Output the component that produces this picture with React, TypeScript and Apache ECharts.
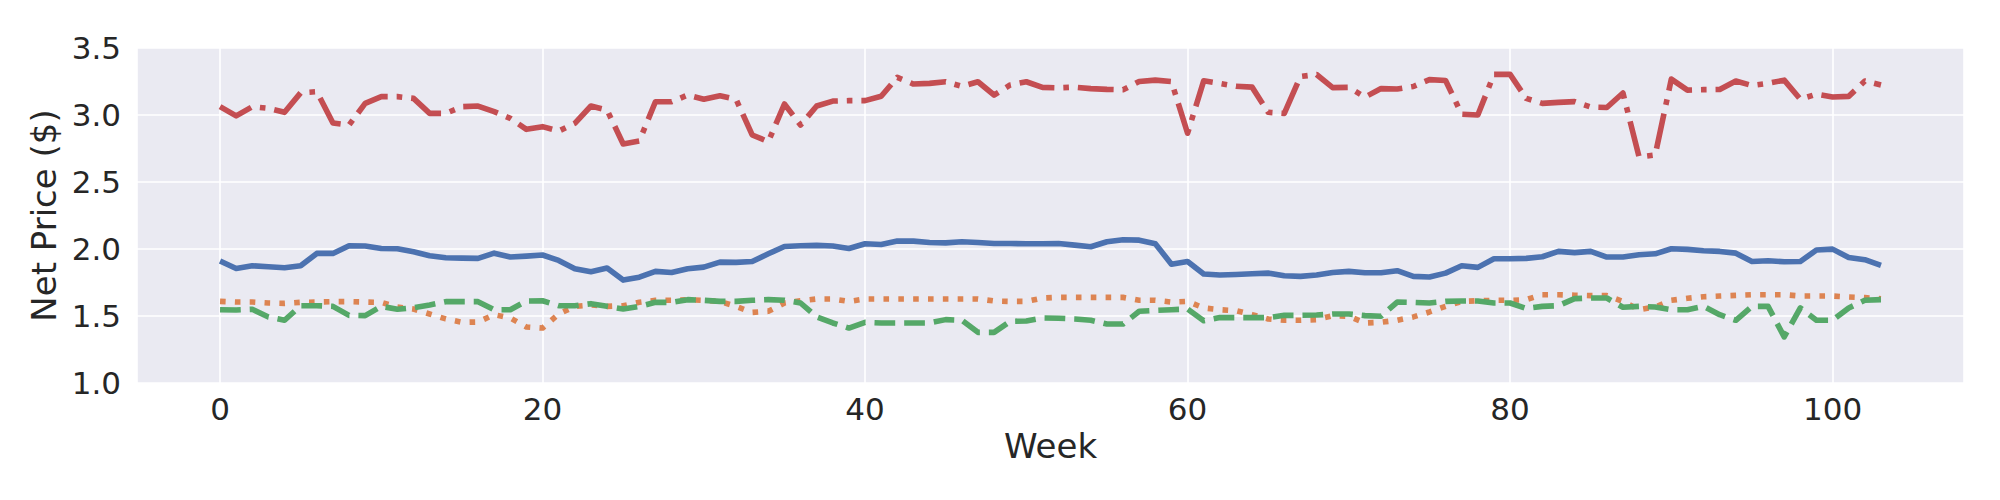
import React, { useEffect, useRef } from "react";
import * as echarts from "echarts";

const seriesNames = ["Product A", "Product B", "Product C", "Product D"];

const blueValues = [
  1.91, 1.855, 1.875, 1.868, 1.86, 1.875, 1.967, 1.967, 2.024, 2.022,
  2.004, 2.002, 1.98, 1.95, 1.935, 1.932, 1.93, 1.969, 1.94, 1.947,
  1.955, 1.915, 1.853, 1.83, 1.858, 1.768, 1.79, 1.833, 1.825, 1.853,
  1.865, 1.902, 1.9, 1.907, 1.964, 2.019, 2.024, 2.027, 2.022, 2.004,
  2.039, 2.034, 2.059, 2.059, 2.049, 2.046, 2.054, 2.049, 2.041, 2.041,
  2.039, 2.039, 2.041, 2.029, 2.017, 2.054, 2.069, 2.066, 2.039, 1.887,
  1.907, 1.813, 1.806, 1.81, 1.815, 1.82, 1.8, 1.796, 1.806, 1.825,
  1.833, 1.823, 1.823, 1.838, 1.796, 1.791, 1.82, 1.875, 1.863, 1.927,
  1.927, 1.93, 1.942, 1.982, 1.973, 1.982, 1.94, 1.94, 1.957, 1.964,
  2.002, 1.997, 1.987, 1.982, 1.969, 1.907, 1.912, 1.905, 1.907, 1.992,
  1.999, 1.937, 1.92, 1.878,
];

const orangeValues = [
  1.609, 1.604, 1.604, 1.597, 1.594, 1.602, 1.604, 1.607, 1.607, 1.604,
  1.602, 1.566, 1.552, 1.515, 1.478, 1.453, 1.455, 1.51, 1.485, 1.418,
  1.41, 1.515, 1.572, 1.582, 1.572, 1.577, 1.602, 1.617, 1.617, 1.622,
  1.617, 1.609, 1.572, 1.527, 1.535, 1.597, 1.614, 1.627, 1.627, 1.609,
  1.627, 1.627, 1.627, 1.627, 1.627, 1.627, 1.627, 1.627, 1.612, 1.609,
  1.609, 1.634, 1.639, 1.639, 1.639, 1.639, 1.639, 1.617, 1.617, 1.604,
  1.609, 1.56, 1.547, 1.54, 1.51, 1.478, 1.468, 1.468, 1.473, 1.502,
  1.498, 1.448, 1.453, 1.468, 1.493, 1.53, 1.572, 1.609, 1.614, 1.617,
  1.617, 1.622, 1.659, 1.659, 1.655, 1.652, 1.652, 1.609, 1.547, 1.567,
  1.617, 1.632, 1.644, 1.649, 1.654, 1.659, 1.659, 1.659, 1.649, 1.649,
  1.649, 1.642, 1.637, 1.629,
];

const greenValues = [
  1.547, 1.545, 1.55, 1.493, 1.468, 1.577, 1.577, 1.572, 1.505, 1.503,
  1.572, 1.55, 1.562, 1.582, 1.607, 1.607, 1.607, 1.547, 1.547, 1.612,
  1.614, 1.577, 1.577, 1.592, 1.572, 1.552, 1.572, 1.602, 1.602, 1.622,
  1.617, 1.609, 1.609, 1.617, 1.622, 1.617, 1.597, 1.493, 1.448, 1.41,
  1.453, 1.448, 1.448, 1.448, 1.448, 1.473, 1.468, 1.378, 1.378, 1.46,
  1.463, 1.485, 1.483, 1.478, 1.468, 1.44, 1.44, 1.535, 1.542, 1.547,
  1.552, 1.465, 1.488, 1.488, 1.488, 1.488, 1.505, 1.505, 1.507, 1.515,
  1.515, 1.503, 1.498, 1.604, 1.602, 1.597, 1.609, 1.612, 1.612, 1.597,
  1.597, 1.557, 1.572, 1.577, 1.63, 1.634, 1.634, 1.565, 1.572, 1.567,
  1.547, 1.547, 1.572, 1.51, 1.468, 1.572, 1.572, 1.344, 1.56, 1.468,
  1.468, 1.56, 1.617, 1.622,
];

const redValues = [
  3.062, 2.993, 3.062, 3.05, 3.02, 3.166, 3.174, 2.94, 2.925, 3.087,
  3.137, 3.137, 3.124, 3.012, 3.012, 3.062, 3.067, 3.025, 2.975, 2.893,
  2.913, 2.88, 2.938, 3.067, 3.037, 2.784, 2.806, 3.099, 3.099, 3.149,
  3.117, 3.144, 3.117, 2.851, 2.801, 3.082, 2.925, 3.067, 3.104, 3.107,
  3.107, 3.14, 3.281, 3.231, 3.236, 3.248, 3.214, 3.248, 3.149, 3.224,
  3.248, 3.206, 3.203, 3.208, 3.197, 3.191, 3.188, 3.25, 3.26, 3.25,
  2.864, 3.255, 3.236, 3.215, 3.208, 3.02, 3.012, 3.287, 3.302, 3.204,
  3.206, 3.134, 3.197, 3.194, 3.213, 3.264, 3.258, 3.006, 3.0, 3.303,
  3.303, 3.124, 3.087, 3.094, 3.1, 3.06, 3.056, 3.164, 2.687, 2.702,
  3.268, 3.186, 3.189, 3.19, 3.254, 3.22, 3.236, 3.26, 3.118, 3.155,
  3.134, 3.139, 3.254, 3.224,
];

const yTicks = [1.0, 1.5, 2.0, 2.5, 3.0, 3.5];
const xTickStep = 20;

const colors = ["#4C72B0", "#DD8452", "#55A868", "#C44E52"];
const FONT = "DejaVu Sans";
const TEXT = "#262626";
const LW = 5.6;

export default function App() {
  const ref = useRef<HTMLDivElement>(null);

  useEffect(() => {
    document.body.style.margin = "0";
    if (!ref.current) return;
    const chart = echarts.init(ref.current, undefined, { renderer: "svg" });
    const weeks = blueValues.map((_, i) => i);
    const toPairs = (vals: number[]) => vals.map((v, i) => [weeks[i], v]);
    const dashes: any[] = [
      "solid",
      [LW * 1, LW * 1.65],
      [LW * 3.7, LW * 1.6],
      [LW * 6.4, LW * 1.6, LW * 1, LW * 1.6],
    ];
    const allValues = [blueValues, orangeValues, greenValues, redValues];

    chart.setOption({
      animation: false,
      backgroundColor: "#ffffff",
      grid: {
        left: 137,
        right: 36,
        top: 48,
        bottom: 117,
        show: true,
        backgroundColor: "#EAEAF2",
        borderWidth: 0,
      },
      xAxis: {
        type: "value",
        min: -5.15,
        max: 108.15,
        name: "Week",
        nameLocation: "middle",
        nameGap: 43,
        nameTextStyle: { fontFamily: FONT, fontSize: 34, color: TEXT },
        axisLine: { show: false },
        axisTick: { show: false },
        axisLabel: {
          fontFamily: FONT,
          fontSize: 31,
          color: TEXT,
          margin: 10,
          showMinLabel: false,
          showMaxLabel: false,
          formatter: (v: number) =>
            Math.abs(v % xTickStep) < 1e-9 ? String(v) : "",
        },
        splitLine: { show: true, lineStyle: { color: "#ffffff", width: 1.6 } },
      },
      yAxis: {
        type: "value",
        min: yTicks[0],
        max: yTicks[yTicks.length - 1],
        interval: 0.5,
        name: "Net Price ($)",
        nameLocation: "middle",
        nameRotate: 90,
        nameGap: 72,
        nameTextStyle: { fontFamily: FONT, fontSize: 34, color: TEXT },
        axisLine: { show: false },
        axisTick: { show: false },
        axisLabel: {
          fontFamily: FONT,
          fontSize: 31,
          color: TEXT,
          margin: 16,
          formatter: (v: number) => v.toFixed(1),
        },
        splitLine: { show: true, lineStyle: { color: "#ffffff", width: 1.6 } },
      },
      series: allValues.map((vals, i) => ({
        name: seriesNames[i],
        type: "line",
        data: toPairs(vals),
        showSymbol: false,
        symbol: "none",
        lineStyle: {
          color: colors[i],
          width: LW,
          type: dashes[i],
          cap: "butt",
          join: "round",
        },
        z: 2 + i,
      })),
    });
    return () => chart.dispose();
  }, []);

  return <div ref={ref} style={{ width: 2000, height: 500 }} />;
}
